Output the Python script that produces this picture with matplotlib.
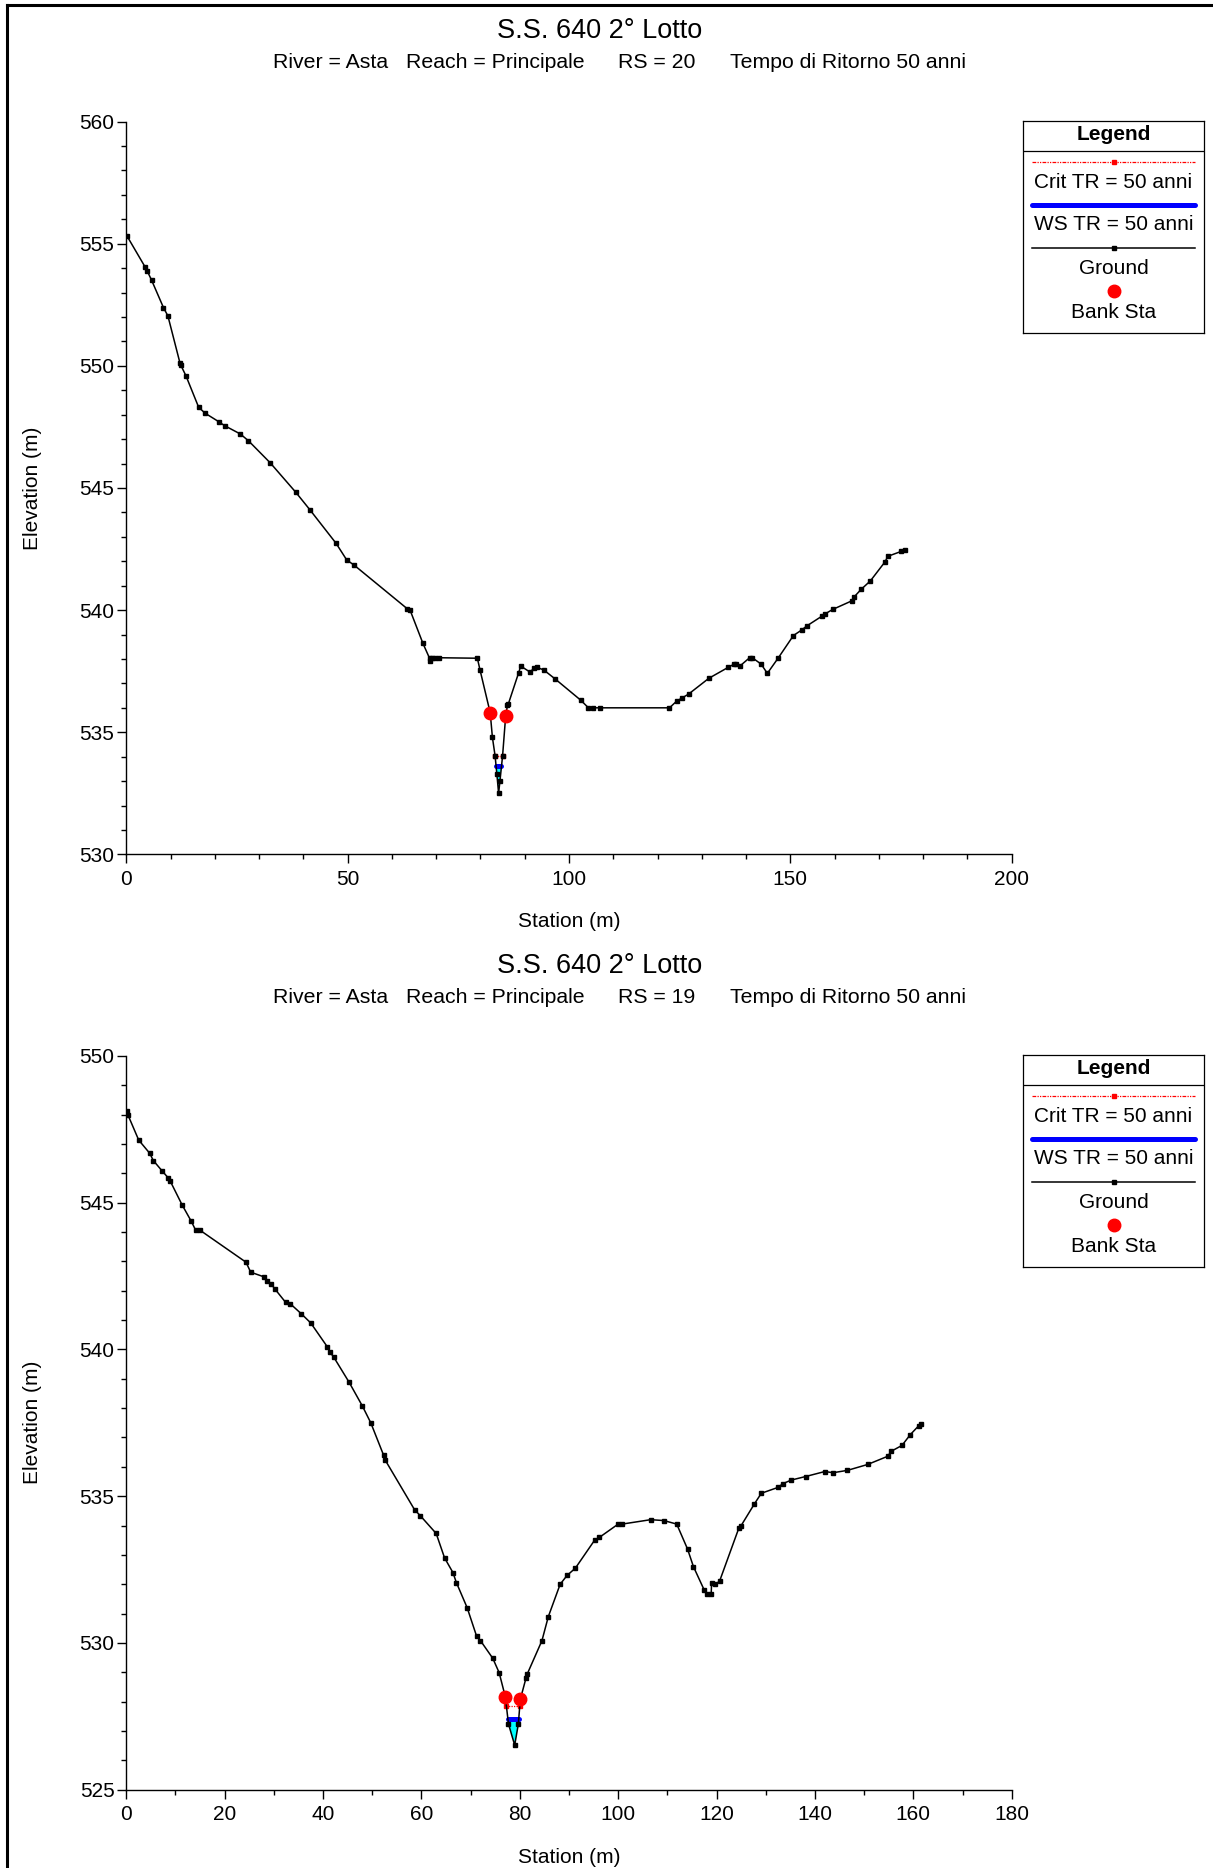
import numpy as np
import matplotlib.pyplot as plt
from matplotlib.lines import Line2D
from matplotlib.ticker import MultipleLocator

plt.rcParams['font.family'] = ['Liberation Sans', 'DejaVu Sans']

TITLE = "S.S. 640 2° Lotto"
SUBTITLE_PARTS = ["River = Asta", "Reach = Principale", "RS = {}", "Tempo di Ritorno 50 anni"]
LEGEND_LABELS = ["Crit TR = 50 anni", "WS TR = 50 anni", "Ground", "Bank Sta"]

# RS = 20
rs20_station = [0.1, 4.2, 4.7, 5.7, 8.4, 9.4, 12.1, 12.3, 13.5, 16.35, 17.8, 20.9, 22.2, 25.75,
	27.6, 32.5, 38.3, 41.5, 47.4, 49.8, 51.4, 63.5, 64.1, 67.0, 68.5, 68.7, 69.1, 69.8,
	70.7, 79.3, 79.9, 82.2, 82.7, 83.3, 83.7, 84.1, 84.4, 85.0, 85.7, 86.1, 86.3, 88.6,
	89.1, 91.3, 92.0, 92.7, 94.3, 96.95, 102.6, 104.4, 105.4, 106.9, 122.7, 124.3, 125.5,
	127.0, 131.6, 136.0, 137.2, 137.8, 138.6, 140.8, 141.4, 143.4, 144.8, 147.3, 150.7,
	152.6, 153.7, 157.2, 157.8, 159.6, 163.9, 164.3, 166.0, 168.1, 171.4, 172.0, 175.0, 175.8]
rs20_elev = [555.33, 554.06, 553.89, 553.51, 552.38, 552.04, 550.13, 550.03, 549.58, 548.30,
	548.06, 547.71, 547.55, 547.21, 546.93, 546.03, 544.82, 544.10, 542.73, 542.05, 541.85,
	540.05, 540.00, 538.64, 538.03, 537.92, 538.04, 538.05, 538.05, 538.03, 537.55, 535.80,
	534.79, 534.04, 533.30, 532.50, 533.00, 534.04, 535.68, 536.10, 536.16, 537.42, 537.71,
	537.45, 537.63, 537.66, 537.55, 537.17, 536.32, 536.00, 536.00, 536.00, 536.00, 536.27,
	536.40, 536.56, 537.21, 537.66, 537.78, 537.78, 537.71, 538.05, 538.05, 537.79, 537.41,
	538.05, 538.96, 539.19, 539.35, 539.76, 539.84, 540.03, 540.38, 540.52, 540.85, 541.20,
	541.98, 542.20, 542.40, 542.44]
rs20_banks = [(82.2, 535.80), (85.7, 535.68)]
rs20_crit = 534.04
rs20_ws = 533.61

# RS = 19
rs19_station = [0.08, 0.35, 2.52, 4.76, 5.5, 7.33, 8.48, 8.88, 11.32, 13.22, 14.1, 14.98, 24.33,
	25.29, 28.0, 28.7, 29.4, 30.2, 32.4, 33.3, 35.6, 37.5, 40.9, 41.4, 42.2, 45.3, 48.0, 49.7,
	52.3, 52.6, 58.6, 59.8, 63.0, 64.7, 66.4, 67.1, 69.3, 71.2, 72.0, 74.5, 75.8, 77.05, 77.7,
	78.96, 79.7, 80.1, 81.25, 81.5, 84.5, 85.8, 88.2, 89.6, 91.3, 95.2, 96.2, 100.0, 100.8,
	106.6, 109.3, 111.9, 114.1, 115.3, 117.5, 118.0, 118.9, 119.0, 119.7, 120.6, 124.5, 125.0,
	127.7, 129.1, 132.5, 133.5, 135.2, 138.1, 142.0, 143.7, 146.6, 150.7, 154.8, 155.5, 157.7,
	159.4, 161.1, 161.6]
rs19_elev = [548.12, 547.98, 547.13, 546.68, 546.43, 546.07, 545.85, 545.75, 544.93, 544.36,
	544.06, 544.06, 542.97, 542.63, 542.47, 542.34, 542.24, 542.06, 541.60, 541.56, 541.21,
	540.90, 540.08, 539.91, 539.73, 538.88, 538.07, 537.50, 536.40, 536.24, 534.54, 534.33,
	533.73, 532.90, 532.40, 532.06, 531.20, 530.24, 530.08, 529.48, 528.99, 528.17, 527.24,
	526.52, 527.24, 528.08, 528.80, 528.94, 530.08, 530.90, 532.00, 532.30, 532.55, 533.50,
	533.60, 534.05, 534.05, 534.20, 534.17, 534.05, 533.20, 532.60, 531.80, 531.66, 531.66,
	532.06, 532.00, 532.10, 533.90, 534.00, 534.74, 535.10, 535.30, 535.43, 535.55, 535.67,
	535.84, 535.80, 535.88, 536.08, 536.36, 536.53, 536.73, 537.10, 537.40, 537.46]
rs19_banks = [(77.05, 528.17), (80.1, 528.08)]
rs19_crit = 527.85
rs19_ws = 527.42

W, H = 1213, 1868
FS = 15
fig = plt.figure(figsize=(W/100, H/100), dpi=100)

def fx(px):
	return px / W

def fy(py):
	return 1 - py / H

def crossing(x, y, level):
	"""Find where a level cuts the ground either side of the thalweg."""
	x = np.asarray(x)
	y = np.asarray(y)
	imin = int(np.argmin(y))
	i = imin
	while i > 0 and y[i-1] < level:
		i -= 1
	xl = np.interp(level, [y[i], y[i-1]], [x[i], x[i-1]])
	j = imin
	while j < len(y)-1 and y[j+1] < level:
		j += 1
	xr = np.interp(level, [y[j], y[j+1]], [x[j], x[j+1]])
	return xl, xr, i, j

def draw_section(ax, station, elev, banks, crit, ws, xmax, xmajor, ymin, ymax):
	xl, xr, i, j = crossing(station, elev, ws)
	poly_x = [xl] + list(station[i:j+1]) + [xr]
	poly_y = [ws] + list(elev[i:j+1]) + [ws]
	ax.fill(poly_x, poly_y, color='#00ffff', lw=0, zorder=1)
	ax.plot([xl, xr], [ws, ws], color='#0000ff', lw=3.6, solid_capstyle='round', zorder=2)
	cl, cr, _, _ = crossing(station, elev, crit)
	ax.plot([cl, cr], [crit, crit], color='red', lw=0.9, ls=(0, (3, 1, 1, 1, 1, 1)),
		marker='s', markersize=2.5, zorder=3)
	ax.plot(station, elev, color='black', lw=1.1, marker='s', markersize=2.6, zorder=4)
	bx, by = zip(*banks)
	ax.plot(bx, by, ls='none', marker='o', color='red', markersize=9, zorder=5)
	ax.set_xlim(0, xmax)
	ax.set_ylim(ymin, ymax)
	for s in ['top', 'right']:
		ax.spines[s].set_visible(False)
	for s in ['left', 'bottom']:
		ax.spines[s].set_linewidth(1.0)
	ax.yaxis.set_major_locator(MultipleLocator(5))
	ax.yaxis.set_minor_locator(MultipleLocator(1))
	ax.xaxis.set_major_locator(MultipleLocator(xmajor))
	ax.xaxis.set_minor_locator(MultipleLocator(10))
	ax.tick_params(which='major', direction='out', length=6.5, width=1.0, labelsize=FS, pad=2)
	ax.tick_params(axis='x', which='major', pad=4.5)
	ax.tick_params(which='minor', direction='out', length=3.6, width=1.0)
	ax.set_xlabel('Station (m)', fontsize=FS, labelpad=17)
	ax.set_ylabel('Elevation (m)', fontsize=FS, labelpad=27)

def draw_legend(top):
	left, right, bottom = 1023, 1204, top + 212
	lax = fig.add_axes([fx(left), fy(bottom), fx(right-left), (bottom-top)/H])
	lax.set_xlim(0, right-left)
	lax.set_ylim(bottom-top, 0)
	lax.set_xticks([])
	lax.set_yticks([])
	for s in lax.spines.values():
		s.set_linewidth(0.9)
	cx = (right-left) / 2
	x0, x1 = 9, right-left-9
	lax.text(cx, 13, 'Legend', ha='center', va='center', fontsize=FS, fontweight='bold')
	lax.plot([0, right-left], [30, 30], color='black', lw=0.9)
	lax.plot([x0, x1], [41, 41], color='red', lw=0.9, ls=(0, (3, 1, 1, 1, 1, 1)))
	lax.plot([cx], [41], color='red', marker='s', markersize=2.5)
	lax.text(cx, 62, LEGEND_LABELS[0], ha='center', va='center', fontsize=FS)
	lax.plot([x0, x1], [84, 84], color='#0000ff', lw=3.6, solid_capstyle='round')
	lax.text(cx, 104, LEGEND_LABELS[1], ha='center', va='center', fontsize=FS)
	lax.plot([x0, x1], [127, 127], color='black', lw=1.1)
	lax.plot([cx], [127], color='black', marker='s', markersize=2.6)
	lax.text(cx, 148, LEGEND_LABELS[2], ha='center', va='center', fontsize=FS)
	lax.plot([cx], [170], color='red', marker='o', markersize=9)
	lax.text(cx, 191, LEGEND_LABELS[3], ha='center', va='center', fontsize=FS)

def draw_titles(y_title, y_sub, rs):
	fig.text(fx(600), fy(y_title), TITLE, ha='center', va='center', fontsize=19.5)
	xs = [273, 406, 618, 730]
	for x, part in zip(xs, SUBTITLE_PARTS):
		fig.text(fx(x), fy(y_sub), part.format(rs), ha='left', va='center', fontsize=15.3)

# upper section
ax1 = fig.add_axes([fx(126.3), fy(854.4), fx(1011.7-126.3), (854.4-121.5)/H])
draw_section(ax1, np.array(rs20_station), np.array(rs20_elev), rs20_banks, rs20_crit, rs20_ws,
	200, 50, 530, 560)
draw_titles(31.5, 63, 20)
draw_legend(121)

# lower section
ax2 = fig.add_axes([fx(126.3), fy(1789.8), fx(1011.7-126.3), (1789.8-1055.8)/H])
draw_section(ax2, np.array(rs19_station), np.array(rs19_elev), rs19_banks, rs19_crit, rs19_ws,
	180, 20, 525, 550)
draw_titles(966, 997.5, 19)
draw_legend(1055)

# page frame, top and left edges only
fig.add_artist(Line2D([fx(7), 1], [fy(5), fy(5)], color='black', lw=2.2))
fig.add_artist(Line2D([fx(7), fx(7)], [0, fy(5)], color='black', lw=2.2))

fig.savefig('out.png', dpi=100)
